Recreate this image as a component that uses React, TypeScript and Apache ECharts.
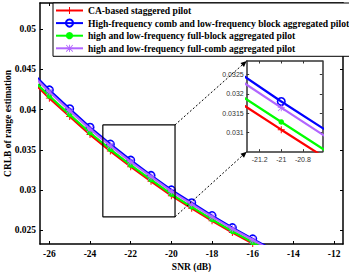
import React, { useEffect, useRef } from "react";
import * as echarts from "echarts";

const snr = [-27, -26, -25, -24, -23, -22, -21, -20, -19, -18, -17, -16, -15];
const caStaggered = [0.04392, 0.04143, 0.03914, 0.03689, 0.03484, 0.03289, 0.03107, 0.02928, 0.02772, 0.02616, 0.02469, 0.02333, 0.02196];
const combBlock = [0.0450, 0.04245, 0.0401, 0.0378, 0.0357, 0.0337, 0.0318, 0.0300, 0.0284, 0.0268, 0.0253, 0.0239, 0.0225];
const fullBlock = [0.04419, 0.04169, 0.03938, 0.03712, 0.03506, 0.03309, 0.03127, 0.02946, 0.02789, 0.02632, 0.02484, 0.02347, 0.0221];
const fullComb = [0.04473, 0.0422, 0.03986, 0.03757, 0.03549, 0.0335, 0.03164, 0.02982, 0.02823, 0.02664, 0.02515, 0.02376, 0.02237];

const seriesNames = [
  "CA-based staggered pilot",
  "High-frequency comb and low-frequency block aggregated pilot",
  "high and low-frequency full-block aggregated pilot",
  "high and low-frequency full-comb aggregated pilot",
];
const seriesColors = ["#ff0000", "#0000ff", "#00ff00", "#b266ff"];

const xTicks = [-26, -24, -22, -20, -18, -16, -14, -12];
const yTicks = [0.025, 0.03, 0.035, 0.04, 0.045, 0.05];
const insetXTicks = [-21.2, -21, -20.8];
const insetYTicks = [0.031, 0.0315, 0.032, 0.0325];
const zoomBoxX = [-23.37, -19.82];
const zoomBoxY = [0.02665, 0.0381];

const PLUS = "path://M4.3,0H5.7V4.3H10V5.7H5.7V10H4.3V5.7H0V4.3H4.3Z";
const STAR =
  "path://M4.4,0H5.6V4.4H10V5.6H5.6V10H4.4V5.6H0V4.4H4.4Z M0.8,0L10,9.2L9.2,10L0,0.8Z M9.2,0L10,0.8L0.8,10L0,9.2Z";

const MAIN = { left: 40, top: 3, width: 303, height: 241 };
const INSET = { left: 246.7, top: 61, width: 75.6, height: 90.7 };

function App() {
  const ref = useRef<HTMLDivElement>(null);
  useEffect(() => {
    if (!ref.current) return;
    const chart = echarts.init(ref.current, null, { renderer: "svg" });
    const allData = [caStaggered, combBlock, fullBlock, fullComb];
    const symbols = [PLUS, "circle", "circle", STAR];
    const symSizes = [7, 7.5, 5.5, 7];
    const pairs = (arr: number[]) => snr.map((s, i) => [s, arr[i]]);

    const mkSeries = (axisIdx: number) =>
      allData.map((d, i) => ({
        type: "line",
        name: seriesNames[i],
        xAxisIndex: axisIdx,
        yAxisIndex: axisIdx,
        data: pairs(d),
        clip: true,
        z: 3 + i,
        symbol: symbols[i],
        symbolSize: symSizes[i],
        showAllSymbol: true,
        lineStyle: { color: seriesColors[i], width: 2.2 },
        itemStyle:
          i === 1
            ? { color: "rgba(0,0,0,0)", borderColor: seriesColors[i], borderWidth: 1.6 }
            : { color: seriesColors[i], borderWidth: 0 },
        emphasis: { disabled: true },
      }));

    const serifLabel = {
      fontFamily: "Liberation Serif",
      fontWeight: "bold" as const,
      fontSize: 9.5,
      color: "#000",
    };
    const insetLabel = {
      fontFamily: "Liberation Sans",
      fontSize: 7,
      color: "#333",
    };

    const axisLine = { show: true, onZero: false, lineStyle: { color: "#000", width: 1.5 } };
    const insetAxisLine = { show: true, onZero: false, lineStyle: { color: "#333", width: 1.5 } };

    const option: any = {
      animation: false,
      grid: [
        { ...MAIN, containLabel: false, outerBoundsMode: "none" },
        { ...INSET, containLabel: false, outerBoundsMode: "none", show: true, backgroundColor: "#fff", borderWidth: 0, z: 10 },
      ],
      legend: {
        data: seriesNames,
        orient: "vertical",
        left: 53,
        top: 3,
        itemWidth: 27,
        itemHeight: 9,
        itemGap: 2.6,
        padding: [2.5, 3, 3, 2],
        backgroundColor: "#fff",
        borderColor: "#000",
        borderWidth: 1,
        borderRadius: 0,
        selectedMode: false,
        textStyle: { ...serifLabel, fontSize: 9.6, lineHeight: 9 },
        z: 20,
      },
      xAxis: [
        {
          type: "value", gridIndex: 0, min: -26.46, max: -11.56, position: "bottom",
          axisLine, splitLine: { show: false },
          axisTick: { show: true, inside: true, length: 3, customValues: xTicks, lineStyle: { color: "#000", width: 1 } },
          axisLabel: { show: true, margin: 5, customValues: xTicks, ...serifLabel },
          name: "SNR (dB)", nameLocation: "middle", nameGap: 17.5, nameMoveOverlap: false,
          nameTextStyle: serifLabel,
        },
        {
          type: "value", gridIndex: 0, min: -26.46, max: -11.56, position: "top",
          axisLine, splitLine: { show: false },
          axisTick: { show: true, inside: true, length: 3, customValues: xTicks, lineStyle: { color: "#000", width: 1 } },
          axisLabel: { show: false },
        },
        {
          type: "value", gridIndex: 1, min: -21.32, max: -20.62, position: "bottom",
          axisLine: insetAxisLine, splitLine: { show: false },
          axisTick: { show: true, inside: true, length: 2.5, customValues: insetXTicks, lineStyle: { color: "#333", width: 1 } },
          axisLabel: { show: true, margin: 4, customValues: insetXTicks, ...insetLabel },
          z: 12,
        },
        {
          type: "value", gridIndex: 1, min: -21.32, max: -20.62, position: "top",
          axisLine: insetAxisLine, splitLine: { show: false },
          axisTick: { show: true, inside: true, length: 2.5, customValues: insetXTicks, lineStyle: { color: "#333", width: 1 } },
          axisLabel: { show: false },
          z: 12,
        },
      ],
      yAxis: [
        {
          type: "value", gridIndex: 0, min: 0.02326, max: 0.05328, position: "left",
          axisLine, splitLine: { show: false },
          axisTick: { show: true, inside: true, length: 3, customValues: yTicks, lineStyle: { color: "#000", width: 1 } },
          axisLabel: { show: true, margin: 4, customValues: yTicks, ...serifLabel },
          name: "CRLB of range estimation", nameLocation: "middle", nameGap: 27, nameRotate: 90,
          nameMoveOverlap: false,
          nameTextStyle: serifLabel,
        },
        {
          type: "value", gridIndex: 0, min: 0.02326, max: 0.05328, position: "right",
          axisLine, splitLine: { show: false },
          axisTick: { show: true, inside: true, length: 3, customValues: yTicks, lineStyle: { color: "#000", width: 1 } },
          axisLabel: { show: false },
        },
        {
          type: "value", gridIndex: 1, min: 0.0305, max: 0.03285, position: "left",
          axisLine: insetAxisLine, splitLine: { show: false },
          axisTick: { show: true, inside: true, length: 2.5, customValues: insetYTicks, lineStyle: { color: "#333", width: 1 } },
          axisLabel: { show: true, margin: 3, customValues: insetYTicks, ...insetLabel },
          z: 12,
        },
        {
          type: "value", gridIndex: 1, min: 0.0305, max: 0.03285, position: "right",
          axisLine: insetAxisLine, splitLine: { show: false },
          axisTick: { show: true, inside: true, length: 2.5, customValues: insetYTicks, lineStyle: { color: "#333", width: 1 } },
          axisLabel: { show: false },
          z: 12,
        },
      ],
      series: [
        ...mkSeries(0),
        ...mkSeries(2).map((s) => ({ ...s, z: 11 + s.z })),
        {
          type: "line",
          name: "zoomBox",
          xAxisIndex: 0,
          yAxisIndex: 0,
          data: [
            [zoomBoxX[0], zoomBoxY[1]],
            [zoomBoxX[1], zoomBoxY[1]],
            [zoomBoxX[1], zoomBoxY[0]],
            [zoomBoxX[0], zoomBoxY[0]],
            [zoomBoxX[0], zoomBoxY[1]],
          ],
          symbol: "none",
          lineStyle: { color: "#000", width: 1.2 },
          z: 9,
          emphasis: { disabled: true },
        },
      ],
    };
    chart.setOption(option);

    const p1 = chart.convertToPixel({ gridIndex: 0 }, [zoomBoxX[1], zoomBoxY[1]]) as number[];
    const p2 = chart.convertToPixel({ gridIndex: 0 }, [zoomBoxX[1], zoomBoxY[0]]) as number[];
    const t1 = [INSET.left, INSET.top];
    const t2 = [INSET.left, INSET.top + INSET.height];
    const arrow = (a: number[], b: number[]) => {
      const dx = b[0] - a[0];
      const dy = b[1] - a[1];
      const len = Math.sqrt(dx * dx + dy * dy);
      const ux = dx / len;
      const uy = dy / len;
      const hl = 6;
      const hw = 2.6;
      const bx = b[0] - ux * hl;
      const by = b[1] - uy * hl;
      return [
        {
          type: "line",
          shape: { x1: a[0], y1: a[1], x2: bx, y2: by },
          style: { stroke: "#000", lineWidth: 1, lineDash: [2, 2] },
          z: 30,
        },
        {
          type: "polygon",
          shape: {
            points: [
              [b[0], b[1]],
              [bx - uy * hw, by + ux * hw],
              [bx + uy * hw, by - ux * hw],
            ],
          },
          style: { fill: "#000" },
          z: 30,
        },
      ];
    };
    chart.setOption({ graphic: [...arrow(p1, t1), ...arrow(p2, t2)] });

    return () => chart.dispose();
  }, []);
  return (
    <div
      ref={ref}
      style={{ position: "fixed", left: 0, top: 0, width: 349, height: 272, background: "#fff" }}
    />
  );
}

export default App;
